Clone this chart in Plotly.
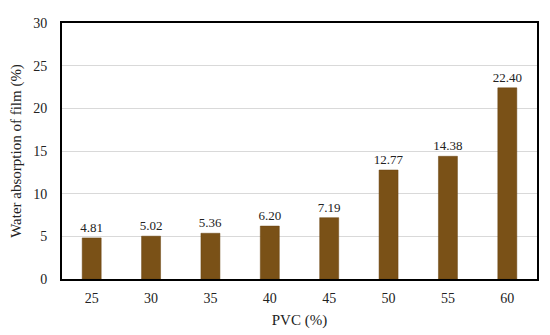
import plotly.graph_objects as go

categories = ["25", "30", "35", "40", "45", "50", "55", "60"]
values = [4.81, 5.02, 5.36, 6.20, 7.19, 12.77, 14.38, 22.40]
labels = ["4.81", "5.02", "5.36", "6.20", "7.19", "12.77", "14.38", "22.40"]

font = "Liberation Serif, Times New Roman, serif"

fig = go.Figure(go.Bar(
    x=categories, y=values, text=labels, textposition="outside",
    constraintext="none",
    textfont=dict(family=font, size=13, color="#222222"),
    outsidetextfont=dict(family=font, size=13, color="#222222"),
    marker=dict(color="#7a5117", line=dict(color="#6b4512", width=0.5)),
    cliponaxis=False,
))
fig.update_layout(
    width=542, height=327,
    margin=dict(l=54, r=13, t=15, b=56),
    plot_bgcolor="white", paper_bgcolor="white",
    bargap=0.68, showlegend=False,
    font=dict(family=font, size=14, color="#222"),
)
fig.update_xaxes(
    type="category", showline=True, linecolor="black", linewidth=2, mirror=True,
    ticks="", ticklabelstandoff=5, automargin=False,
    title=dict(text="PVC (%)", font=dict(size=15), standoff=10),
    tickfont=dict(size=14),
)
fig.update_yaxes(
    range=[0, 30], dtick=5, showline=True, linecolor="black", linewidth=2, mirror=True,
    showgrid=True, gridcolor="#d9d9d9", gridwidth=1, zeroline=False, ticks="",
    ticklabelstandoff=10, automargin=False,
    title=dict(text="Water absorption of film (%)", font=dict(size=15), standoff=10),
    tickfont=dict(size=14),
)
fig.write_html("out.html")
